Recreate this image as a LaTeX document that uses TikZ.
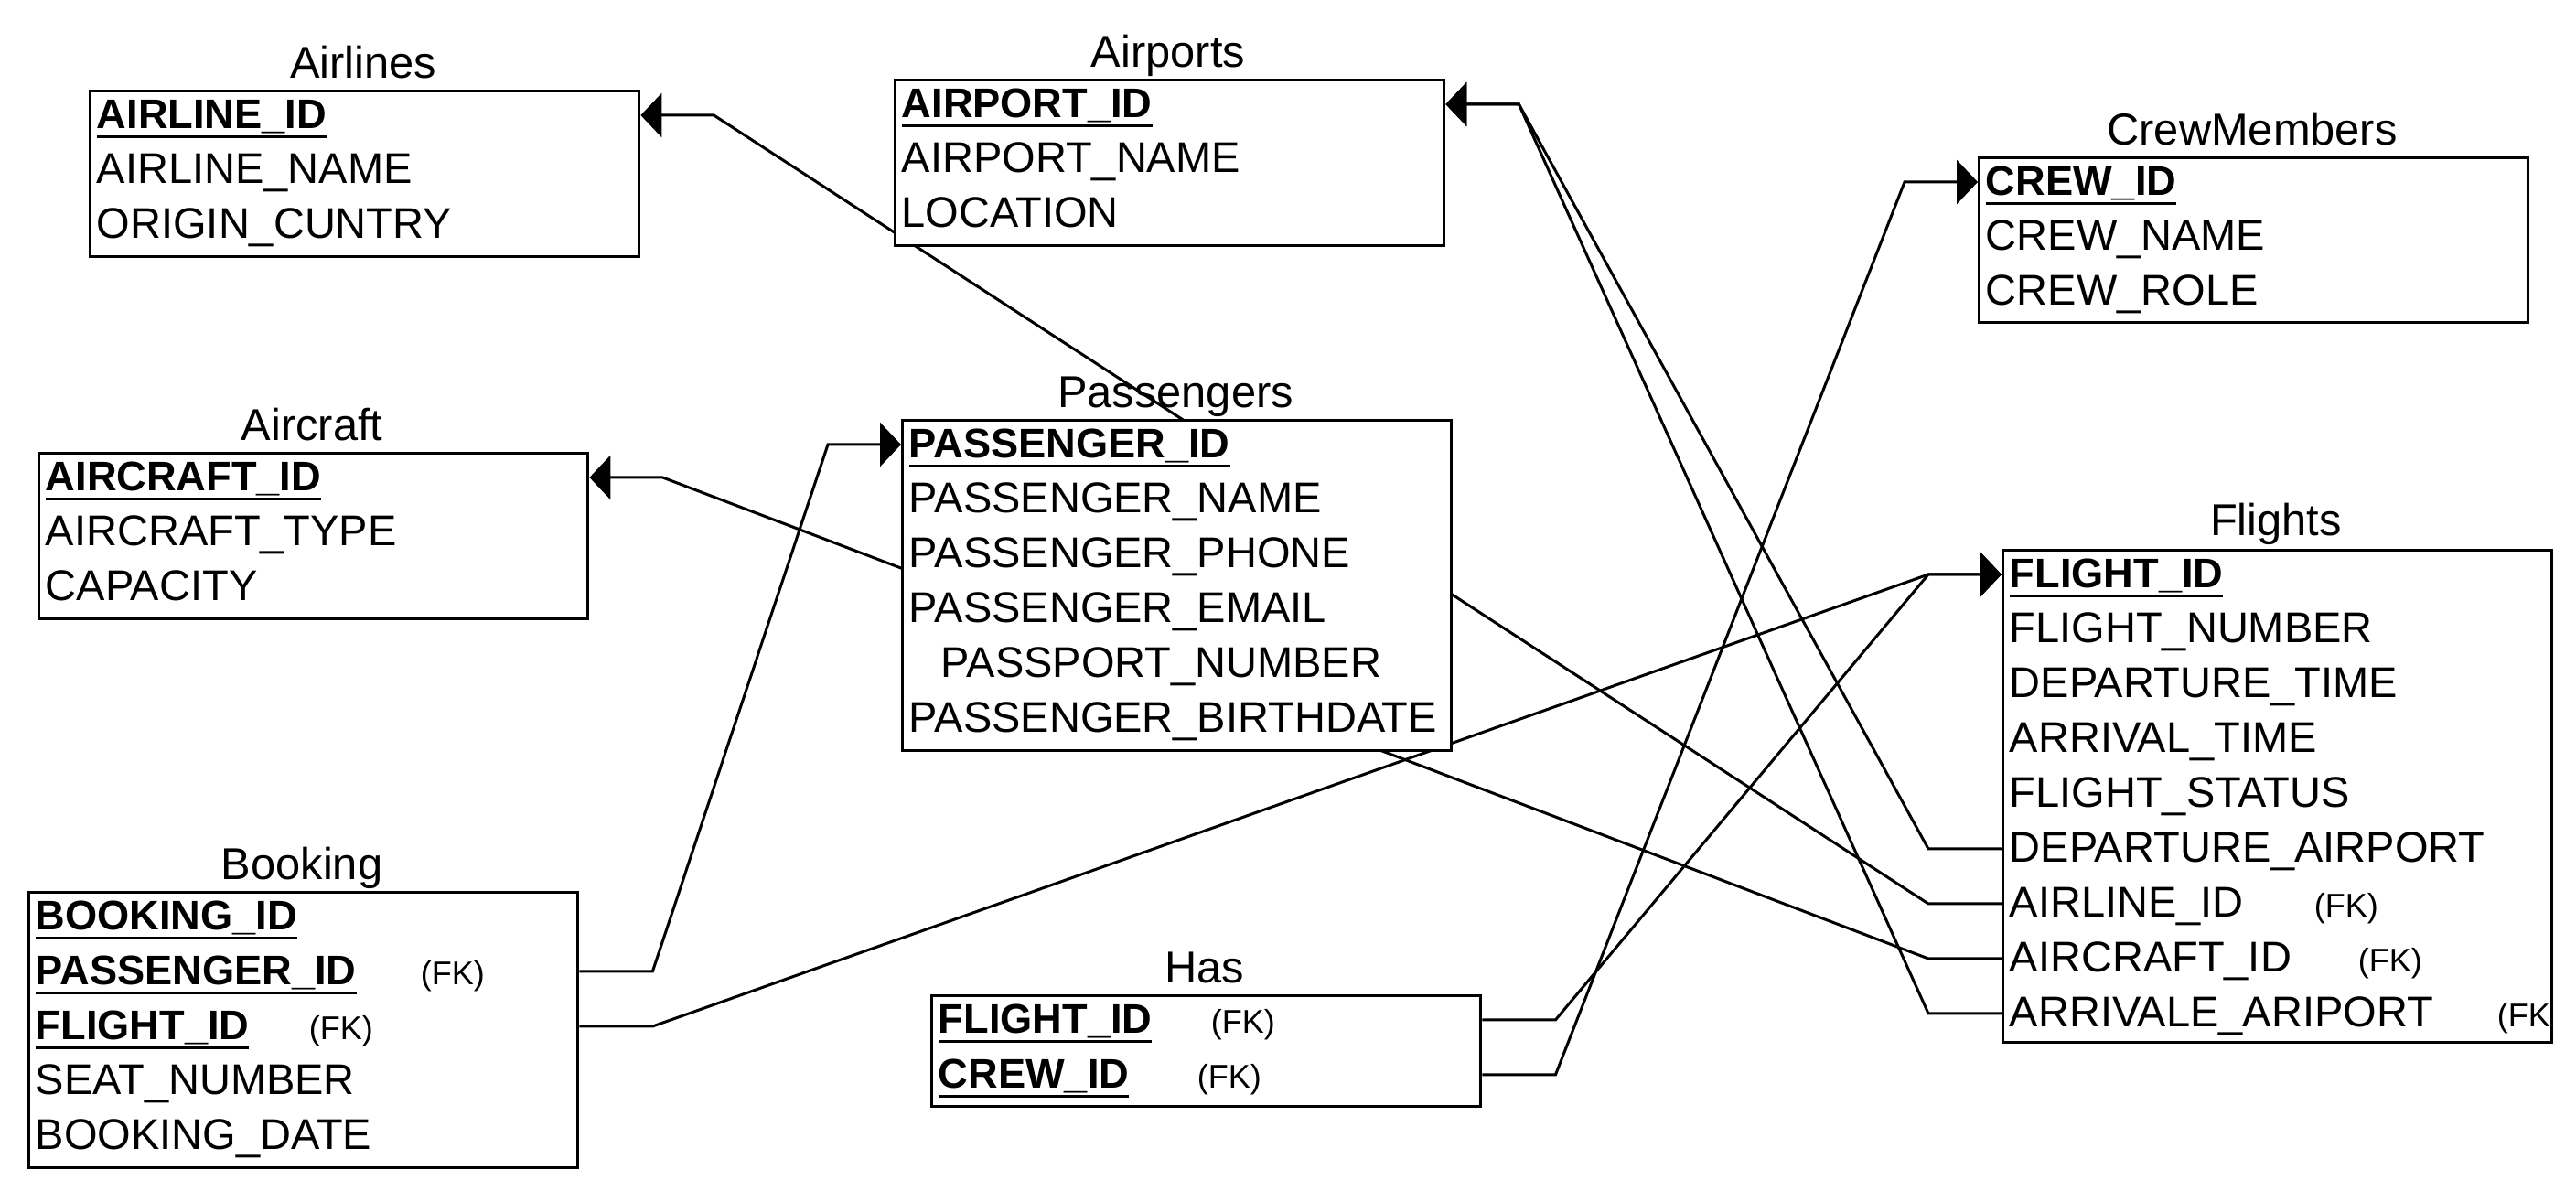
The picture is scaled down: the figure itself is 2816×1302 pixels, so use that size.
\documentclass[tikz,border=0pt]{standalone}
\usepackage{fontspec}
\setmainfont{Liberation Sans}
\usetikzlibrary{arrows.meta,calc}
\pgfdeclarelayer{bg}
\pgfsetlayers{bg,main}
\newcommand\ukey[1]{\setbox0\hbox{\fontsize{11.3}{13}\selectfont\bfseries #1}\rlap{\rule[-2.6pt]{\wd0}{0.75pt}}\box0}
\begin{document}
\begin{tikzpicture}[x=0.25pt,y=-0.25pt,
  tbl/.style={draw,line width=0.85pt,fill=white,minimum width=150pt,inner sep=0,anchor=north west},
  ttl/.style={anchor=base,inner sep=0,font=\fontsize{12.2}{14}\selectfont},
  fld/.style={anchor=west,inner sep=0,text height=9pt,text depth=1.5pt,font=\fontsize{11.75}{14}\selectfont},
  fk/.style={anchor=west,inner sep=0,text height=9pt,text depth=1.5pt,font=\fontsize{9}{11}\selectfont},
  conn/.style={line width=0.75pt},
  fkarrow/.style={conn,-{Triangle[length=5.75pt,width=12pt]}}]
\useasboundingbox (0,0) rectangle (2816,1302);

% Airlines
\node[tbl,minimum height=45.25pt] (al) at (97,98) {};
\node[ttl] (al-t) at (397,86) {Airlines};
\node[fld] (al-id) at (105,126) {\ukey{AIRLINE\_ID}};
\node[fld] (al-name) at (105,186) {AIRLINE\_NAME};
\node[fld] (al-orig) at (105,246) {ORIGIN\_CUNTRY};

% Airports
\node[tbl,minimum height=45.25pt] (ap) at (977,86) {};
\node[ttl] (ap-t) at (1277,74) {Airports};
\node[fld] (ap-id) at (985,114) {\ukey{AIRPORT\_ID}};
\node[fld] (ap-name) at (985,174) {AIRPORT\_NAME};
\node[fld] (ap-loc) at (985,234) {LOCATION};

% CrewMembers
\node[tbl,minimum height=45pt] (cm) at (2162,171) {};
\node[ttl] (cm-t) at (2462,159) {CrewMembers};
\node[fld] (cm-id) at (2170,199) {\ukey{CREW\_ID}};
\node[fld] (cm-name) at (2170,259) {CREW\_NAME};
\node[fld] (cm-role) at (2170,319) {CREW\_ROLE};

% Aircraft
\node[tbl,minimum height=45.25pt] (ac) at (41,494) {};
\node[ttl] (ac-t) at (341,482) {Aircraft};
\node[fld] (ac-id) at (49,522) {\ukey{AIRCRAFT\_ID}};
\node[fld] (ac-type) at (49,582) {AIRCRAFT\_TYPE};
\node[fld] (ac-cap) at (49,642) {CAPACITY};

% Passengers
\node[tbl,minimum height=90.25pt] (ps) at (985,458) {};
\node[ttl] (ps-t) at (1285,446) {Passengers};
\node[fld] (ps-id) at (993,486) {\ukey{PASSENGER\_ID}};
\node[fld] (ps-name) at (993,546) {PASSENGER\_NAME};
\node[fld] (ps-phone) at (993,606) {PASSENGER\_PHONE};
\node[fld] (ps-email) at (993,666) {PASSENGER\_EMAIL};
\node[fld] (ps-pass) at (1028,726) {PASSPORT\_NUMBER};
\node[fld] (ps-birth) at (993,786) {PASSENGER\_BIRTHDATE};

% Booking
\node[tbl,minimum height=75.25pt] (bk) at (30,974) {};
\node[ttl] (bk-t) at (330,962) {Booking};
\node[fld] (bk-id) at (38,1002) {\ukey{BOOKING\_ID}};
\node[fld] (bk-pid) at (38,1062) {\ukey{PASSENGER\_ID}};
\node[fk] (bk-pid-fk) at (459,1062) {(FK)};
\node[fld] (bk-fid) at (38,1122) {\ukey{FLIGHT\_ID}};
\node[fk] (bk-fid-fk) at (337,1122) {(FK)};
\node[fld] (bk-seat) at (38,1182) {SEAT\_NUMBER};
\node[fld] (bk-date) at (38,1242) {BOOKING\_DATE};

% Has
\node[tbl,minimum height=30.25pt] (hs) at (1017,1087) {};
\node[ttl] (hs-t) at (1317,1075) {Has};
\node[fld] (hs-fid) at (1025,1115) {\ukey{FLIGHT\_ID}};
\node[fk] (hs-fid-fk) at (1323,1115) {(FK)};
\node[fld] (hs-cid) at (1025,1175) {\ukey{CREW\_ID}};
\node[fk] (hs-cid-fk) at (1308,1175) {(FK)};

% Flights
\node[tbl,minimum height=134.5pt] (fl) at (2188,600) {};
\node[ttl] (fl-t) at (2488,586) {Flights};
\node[fld] (fl-id) at (2196,628) {\ukey{FLIGHT\_ID}};
\node[fld] (fl-num) at (2196,688) {FLIGHT\_NUMBER};
\node[fld] (fl-dtime) at (2196,748) {DEPARTURE\_TIME};
\node[fld] (fl-atime) at (2196,808) {ARRIVAL\_TIME};
\node[fld] (fl-status) at (2196,868) {FLIGHT\_STATUS};
\node[fld] (fl-dep) at (2196,928) {DEPARTURE\_AIRPORT};
\node[fld] (fl-airline) at (2196,988) {AIRLINE\_ID};
\node[fk] (fl-airline-fk) at (2529,988) {(FK)};
\node[fld] (fl-aircraft) at (2196,1048) {AIRCRAFT\_ID};
\node[fk] (fl-aircraft-fk) at (2577,1048) {(FK)};
\node[fld] (fl-arr) at (2196,1108) {ARRIVALE\_ARIPORT};
\node[fk] (fl-arr-fk) at (2729,1108) {(FK};

% Connectors
\begin{pgfonlayer}{bg}
\draw[fkarrow] (fl-airline.west -| fl.west) -- ++(-80,0) -- ($(al-id.west -| al.east)+(80,0)$) -- (al-id.west -| al.east);
\draw[fkarrow] (fl-aircraft.west -| fl.west) -- ++(-80,0) -- ($(ac-id.west -| ac.east)+(80,0)$) -- (ac-id.west -| ac.east);
\draw[fkarrow] (fl-dep.west -| fl.west) -- ++(-80,0) -- ($(ap-id.west -| ap.east)+(80,0)$) -- (ap-id.west -| ap.east);
\draw[fkarrow] (fl-arr.west -| fl.west) -- ++(-80,0) -- ($(ap-id.west -| ap.east)+(80,0)$) -- (ap-id.west -| ap.east);
\draw[fkarrow] (bk-pid.west -| bk.east) -- ++(80,0) -- ($(ps-id.west -| ps.west)+(-80,0)$) -- (ps-id.west -| ps.west);
\draw[fkarrow] (bk-fid.west -| bk.east) -- ++(80,0) -- ($(fl-id.west -| fl.west)+(-80,0)$) -- (fl-id.west -| fl.west);
\draw[fkarrow] (hs-fid.west -| hs.east) -- ++(80,0) -- ($(fl-id.west -| fl.west)+(-80,0)$) -- (fl-id.west -| fl.west);
\draw[fkarrow] (hs-cid.west -| hs.east) -- ++(80,0) -- ($(cm-id.west -| cm.west)+(-80,0)$) -- (cm-id.west -| cm.west);
\end{pgfonlayer}
\end{tikzpicture}
\end{document}
